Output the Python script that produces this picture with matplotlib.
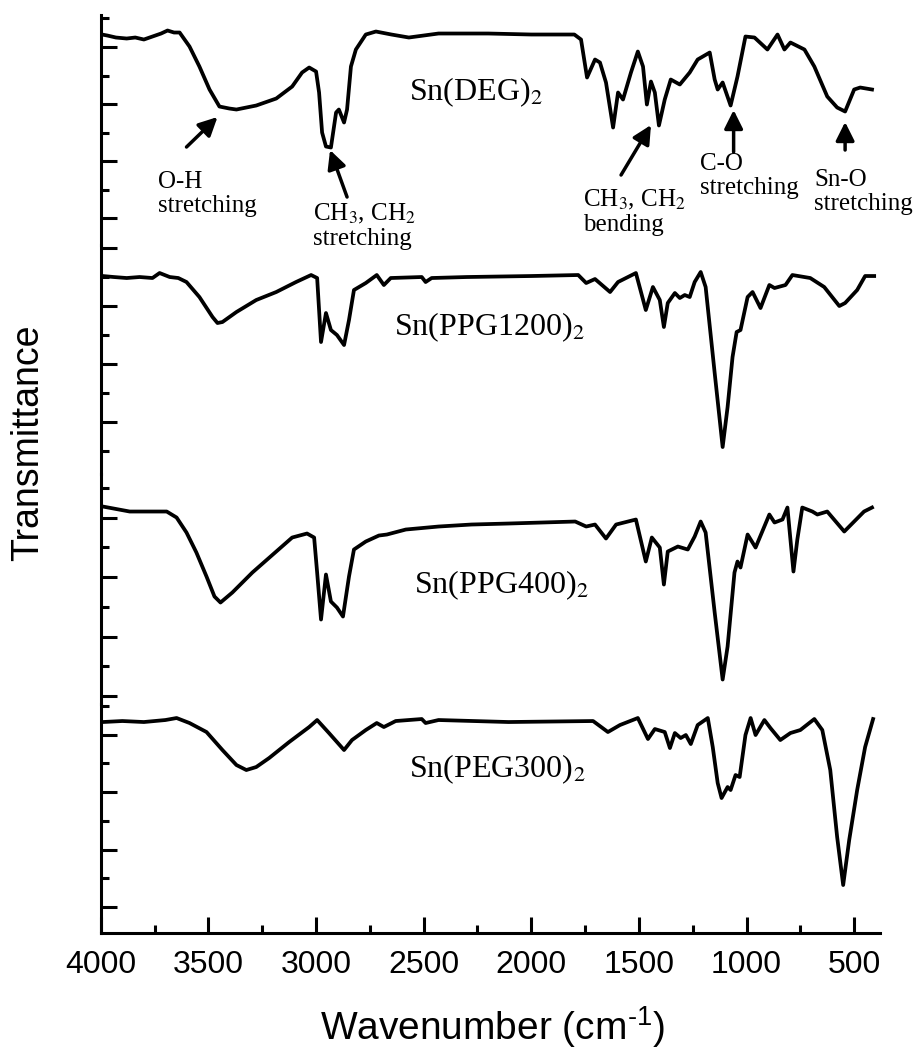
import matplotlib
matplotlib.use("Agg")
import matplotlib.pyplot as plt
import numpy as np

# FTIR spectra, transmittance in arbitrary units (each panel 0..229.5)
deg_wn = [3995, 3970, 3930, 3880, 3840, 3800, 3760, 3720, 3690, 3660,
          3634, 3588, 3542, 3495, 3449, 3403, 3370, 3278, 3185, 3111,
          3065, 3032, 3000, 2986, 2972, 2954, 2931, 2907, 2894, 2870,
          2856, 2838, 2815, 2769, 2722, 2650, 2569, 2500, 2431, 2200,
          2000, 1800, 1769, 1741, 1704, 1681, 1653, 1620, 1597, 1574,
          1537, 1505, 1481, 1463, 1444, 1426, 1407, 1380, 1352, 1310,
          1264, 1227, 1171, 1148, 1134, 1111, 1074, 1042, 1005, 963,
          903, 856, 824, 796, 731, 685, 625, 579, 542, 500,
          472, 417]
deg_t = [210, 209, 207, 206, 207, 205, 208, 211, 214, 212,
         212, 198, 178, 155, 138, 136, 135, 139, 146, 158,
         172, 177, 173, 152, 112, 98, 97, 132, 135, 122,
         135, 178, 195, 210, 213, 210, 207, 209, 211, 211,
         210, 210, 205, 167, 185, 182, 162, 117, 152, 145,
         172, 193, 178, 140, 163, 152, 119, 145, 165, 160,
         172, 185, 192, 165, 155, 162, 139, 168, 208, 207,
         195, 210, 195, 202, 195, 178, 148, 137, 133, 155,
         157, 155]

ppg1200_wn = [3991, 3940, 3880, 3820, 3760, 3727, 3680, 3640, 3602, 3542,
              3481, 3458, 3435, 3370, 3278, 3185, 3093, 3023, 2995, 2977,
              2954, 2931, 2903, 2870, 2847, 2824, 2769, 2718, 2685, 2653,
              2509, 2491, 2463, 2300, 2000, 1782, 1745, 1704, 1634, 1597,
              1514, 1468, 1435, 1403, 1384, 1366, 1333, 1310, 1287, 1264,
              1241, 1213, 1190, 1148, 1111, 1088, 1065, 1046, 1028, 995,
              972, 935, 894, 870, 819, 787, 704, 639, 569, 542,
              486, 449, 407]
ppg1200_t = [198, 197, 196, 197, 196, 201, 197, 196, 192, 177,
             157, 151, 152, 162, 174, 182, 192, 199, 196, 132,
             161, 144, 139, 129, 154, 184, 191, 199, 189, 196,
             197, 192, 196, 197, 198, 199, 191, 195, 182, 192,
             201, 164, 187, 174, 147, 171, 181, 176, 179, 177,
             192, 202, 187, 101, 27, 67, 117, 142, 144, 177,
             182, 166, 189, 186, 189, 199, 196, 187, 168, 171,
             184, 198, 198]

ppg400_wn = [3991, 3866, 3741, 3694, 3648, 3602, 3556, 3509, 3472, 3444,
             3389, 3296, 3185, 3111, 3042, 3009, 2995, 2977, 2954, 2931,
             2903, 2875, 2847, 2824, 2769, 2708, 2671, 2583, 2431, 2278,
             2106, 1796, 1745, 1704, 1653, 1606, 1514, 1468, 1440, 1403,
             1384, 1366, 1319, 1273, 1241, 1213, 1190, 1148, 1111, 1088,
             1056, 1042, 1028, 995, 958, 894, 870, 833, 810, 796,
             782, 764, 741, 694, 671, 625, 546, 500, 454, 417]
ppg400_t = [197, 192, 192, 192, 186, 171, 151, 127, 107, 101,
            111, 131, 152, 166, 170, 166, 131, 84, 129, 102,
            96, 87, 127, 154, 162, 168, 169, 174, 177, 179,
            180, 182, 177, 179, 165, 179, 184, 142, 166, 156,
            119, 152, 157, 154, 167, 182, 171, 91, 24, 57,
            131, 142, 136, 169, 156, 189, 181, 184, 196, 164,
            132, 164, 196, 192, 189, 192, 172, 182, 192, 196]

peg300_wn = [3991, 3900, 3800, 3700, 3648, 3588, 3509, 3435, 3370, 3324,
             3278, 3218, 3125, 3032, 2995, 2940, 2870, 2833, 2769, 2718,
             2685, 2630, 2509, 2491, 2431, 2106, 1713, 1644, 1588, 1505,
             1458, 1426, 1380, 1356, 1333, 1306, 1282, 1259, 1227, 1180,
             1157, 1134, 1116, 1088, 1074, 1051, 1032, 1005, 981, 958,
             917, 889, 843, 796, 750, 685, 648, 611, 579, 551,
             523, 486, 449, 412]
peg300_t = [211, 212, 211, 213, 215, 210, 201, 183, 168, 163,
            166, 175, 191, 206, 213, 200, 183, 193, 203, 210,
            206, 212, 214, 210, 213, 211, 212, 201, 208, 215,
            194, 204, 201, 185, 200, 195, 198, 189, 208, 215,
            186, 150, 135, 146, 143, 158, 156, 198, 215, 198,
            213, 205, 193, 200, 203, 214, 203, 163, 96, 48,
            93, 143, 186, 214]

names = ["Sn(DEG)$_2$", "Sn(PPG1200)$_2$", "Sn(PPG400)$_2$", "Sn(PEG300)$_2$"]
xmajor = [4000, 3500, 3000, 2500, 2000, 1500, 1000, 500]
xminor = [3750, 3250, 2750, 2250, 1750, 1250, 750]

# sans maths for the axis label, stix (Times-like) for the sample names
plt.rcParams["mathtext.fontset"] = "custom"
plt.rcParams["mathtext.rm"] = "Liberation Sans"
plt.rcParams["mathtext.it"] = "Liberation Sans:italic"
serif = "Liberation Serif"
sans = "Liberation Sans"

spectra = [(deg_wn, deg_t), (ppg1200_wn, ppg1200_t),
           (ppg400_wn, ppg400_t), (peg300_wn, peg300_t)]
# label anchor (wavenumber, baseline) for each panel
label_pos = [(2569, 144.5), (2639, 139), (2546, 110.5), (2569, 156)]
# left-axis ticks differ from layer to layer
ymajor = [[26.5, 83.5, 140.5, 197.5], [52, 110, 168, 226],
          [7.5, 67, 126.5, 186], [26, 83, 141, 198]]
yminor = [[55, 112, 169, 226.5], [23, 81, 139, 197],
          [37.5, 97, 156.5, 216], [55, 112, 170, 227]]

fig = plt.figure(figsize=(9.2, 10.5), dpi=100)
left, right, bottom, top = 0.1096, 0.9565, 0.1114, 0.9857
h = (top - bottom) / 4
axes = []
for i in range(4):
    ax = fig.add_axes([left, top - (i + 1) * h, right - left, h])
    ax.patch.set_visible(False)
    wn, t = spectra[i]
    ax.plot(wn, t, color="black", lw=2.7, solid_joinstyle="round")
    ax.set_xlim(4000, 380)
    ax.set_ylim(0, 229.5)
    for s in ["top", "right"]:
        ax.spines[s].set_visible(False)
    ax.spines["left"].set_linewidth(2.2)
    ax.spines["bottom"].set_linewidth(2.2)
    ax.set_yticks(ymajor[i])
    ax.set_yticks(yminor[i], minor=True)
    ax.tick_params(axis="y", which="major", direction="in", length=11.5, width=2.2, labelleft=False)
    ax.tick_params(axis="y", which="minor", direction="in", length=5.8, width=2.2)
    lx, ly = label_pos[i]
    ax.text(lx, ly, names[i], fontsize=23, family=serif, math_fontfamily="stix",
            ha="left", va="baseline")
    if i < 3:
        ax.spines["bottom"].set_visible(False)
        ax.tick_params(axis="x", which="both", bottom=False, labelbottom=False)
    axes.append(ax)

ax = axes[3]
ax.set_xticks(xmajor)
ax.set_xticks(xminor, minor=True)
ax.tick_params(axis="x", which="major", direction="in", length=11.5, width=2.2, pad=12, labelsize=23)
ax.tick_params(axis="x", which="minor", direction="in", length=5.8, width=2.2)
for lab in ax.get_xticklabels():
    lab.set_family(sans)

# band assignments on the DEG spectrum
ax = axes[0]
arrows = [((3602, 97.5), (3458, 127.5)),
          ((2856, 47.5), (2935, 94.5)),
          ((1583, 69.5), (1444, 119.5)),
          ((1060, 92.5), (1060, 134.5)),
          ((542, 94.5), (542, 122.5))]
for tail, head in arrows:
    ax.annotate("", xy=head, xytext=tail,
                arrowprops=dict(arrowstyle="-|>", lw=2.5, color="black",
                                mutation_scale=28, shrinkA=0, shrinkB=0))
notes = [(3736, 50.5, "O-H\nstretching"),
         (3014, 18.5, "CH$_3$, CH$_2$\nstretching"),
         (1759, 32.5, "CH$_3$, CH$_2$\nbending"),
         (1218, 68.5, "C-O\nstretching"),
         (685, 52.5, "Sn-O\nstretching")]
for x, y, s in notes:
    ax.text(x, y, s, fontsize=18, family=serif, math_fontfamily="stix",
            ha="left", va="center", linespacing=1.15)

fig.text(28 / 920, 1 - 443 / 1050, "Transmittance", rotation=90, fontsize=27,
         family=sans, ha="center", va="center")
fig.text(492 / 920, 1 - 1027 / 1050, r"Wavenumber (cm$^{\text{-}1}$)", fontsize=28,
         family=sans, ha="center", va="center")

fig.savefig("out.png", dpi=100, facecolor="white")
